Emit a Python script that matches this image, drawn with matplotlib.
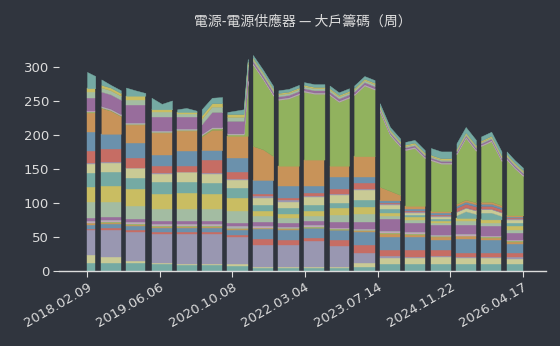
import numpy as np
import matplotlib
matplotlib.use("Agg")
import matplotlib.pyplot as plt
from matplotlib.colors import to_rgb

# ---- data -------------------------------------------------------------
# week index of each sample (3 samples per continuous block of data)
weeks = [0, 4, 8, 14, 23, 33, 38, 47, 57, 63, 73, 83, 88, 97, 107,
         112, 122, 132, 137, 153, 157, 162, 172, 182, 187, 197, 207,
         212, 222, 232, 237, 246, 256, 261, 271, 281, 286, 296, 306,
         311, 320, 330, 336, 346, 356, 361, 370, 380, 385, 395, 405,
         410, 418, 426]

tick_pos = [0, 71, 142, 213, 284, 355, 426]
tick_labels = ["2018.02.09", "2019.06.06", "2020.10.08", "2022.03.04",
               "2023.07.14", "2024.11.22", "2026.04.17"]

# stacked holder groups, bottom to top (values per sample)
g01 = [12,12,12, 12,12,12, 12,12,12, 10,10,10, 9,9,9, 9,9,9, 8,8,8, 4,4,4, 4,4,4, 4,4,4, 4,4,4, 6,6,6, 11,11,11, 11,11,11, 11,11,11, 11,11,11, 11,11,11, 10,10,10]
g02 = [12,12,12, 9,9,9, 3,3,3, 2,2,2, 2,2,2, 2,2,2, 2,2,2, 2,2,2, 2,2,2, 2,2,2, 2,2,2, 6,6,6, 8,8,8, 8,8,8, 10,10,10, 8,8,8, 8,8,8, 8,8,8]
g03 = [36,36,36, 40,40,40, 43,43,43, 43,43,43, 44,44,44, 43,43,43, 40,40,40, 33,33,33, 32,32,32, 38,38,38, 31,31,31, 14,14,14, 3,3,3, 2,2,2, 1,1,1, 1,1,1, 1,1,1, 2,2,2]
g04 = [2,2,2, 2,2,2, 2,2,2, 2,2,2, 2,2,2, 3,3,3, 3,3,3, 8,8,8, 8,8,8, 4,4,4, 9,9,9, 13,13,13, 9,9,9, 10,10,10, 9,9,9, 7,7,7, 7,7,7, 6,6,6]
g05 = [6,6,6, 6,6,6, 6,6,6, 6,6,6, 6,6,6, 6,6,6, 7,7,7, 15,15,15, 15,15,15, 15,15,15, 14,14,14, 19,19,19, 19,19,19, 19,19,19, 14,14,14, 20,20,20, 18,18,18, 14,14,14]
g06 = [2,2,2, 2,2,2, 2,2,2, 2,2,2, 2,2,2, 2,2,2, 2,2,2, 1,1,1, 1,1,1, 1,1,1, 1,1,1, 1,1,1, 4,4,4, 3,3,3, 5,5,5, 4,4,4, 4,4,4, 3,3,3]
g07 = [1,1,1, 1,1,1, 1,1,1, 1,1,1, 1,1,1, 1,1,1, 1,1,1, 1,1,1, 1,1,1, 1,1,1, 1,1,1, 1,1,1, 2,2,2, 2,2,2, 1,1,1, 1,1,1, 1,1,1, 1,1,1]
g08 = [1,1,1, 1,1,1, 1,1,1, 1,1,1, 1,1,1, 1,1,1, 1,1,1, 1,1,1, 1,1,1, 1,1,1, 1,1,1, 1,1,1, 1,1,1, 1,1,1, 1,1,1, 1,1,1, 1,1,1, 1,1,1]
g09 = [2,2,2, 2,2,2, 2,2,2, 2,2,2, 2,2,2, 2,2,2, 2,2,2, 1,1,1, 1,1,1, 1,1,1, 1,1,1, 1,1,1, 2,2,2, 1,1,1, 1,1,1, 1,1,1, 1,1,1, 1,1,1]
g10 = [4,4,4, 4,4,4, 4,4,4, 4,4,4, 4,4,4, 4,4,4, 5,5,5, 6,6,6, 5,5,5, 6,6,6, 8,8,8, 10,10,10, 17,17,17, 14,14,14, 14,14,14, 14,14,14, 14,14,14, 10,10,10]
g11 = [24,24,24, 22,22,22, 20,20,20, 18,18,18, 18,18,18, 18,18,18, 17,17,17, 9,9,9, 8,8,8, 8,8,8, 10,10,10, 12,12,12, 5,5,5, 4,4,4, 3,3,3, 5,5,5, 5,5,5, 5,5,5]
g12 = [22,22,22, 24,24,24, 24,24,24, 23,23,23, 24,24,24, 22,22,22, 20,20,20, 8,8,8, 6,6,6, 8,8,8, 10,10,10, 10,10,10, 4,4,4, 4,4,4, 4,4,4, 5,5,5, 5,5,5, 5,5,5]
g13 = [20,20,20, 20,20,20, 17,17,17, 17,17,17, 16,16,16, 16,16,16, 14,14,14, 8,8,8, 8,8,8, 8,8,8, 8,8,8, 10,10,10, 6,6,6, 3,3,3, 3,3,3, 4,10,6, 10,10,5, 5,5,5]
g14 = [14,14,14, 14,14,14, 14,14,14, 12,12,12, 14,14,14, 14,14,14, 12,12,12, 11,11,11, 10,10,10, 12,12,12, 12,12,12, 15,15,15, 6,6,6, 4,4,4, 3,3,3, 5,5,5, 5,5,5, 4,4,4]
g15 = [1,1,1, 1,1,1, 1,1,1, 1,1,1, 1,1,1, 1,1,1, 1,1,1, 2,2,2, 2,2,2, 2,2,2, 2,2,2, 2,2,2, 1,1,1, 1,1,1, 1,1,1, 1,1,1, 1,1,1, 1,1,1]
g16 = [17,17,17, 20,20,20, 14,14,14, 10,10,10, 8,8,8, 20,20,20, 10,10,10, 4,4,4, 3,3,3, 4,4,4, 6,6,6, 8,8,8, 2,2,2, 2,2,2, 2,2,2, 5,5,5, 4,4,4, 2,2,2]
g17 = [28,28,28, 22,22,22, 22,22,22, 17,17,17, 22,22,22, 14,14,14, 22,22,22, 20,20,20, 18,18,18, 10,10,10, 18,18,18, 10,10,10, 4,4,4, 2,2,2, 2,2,2, 3,3,3, 3,3,3, 2,2,2]
g18 = [29,29,29, 38,34,26, 27,27,27, 32,32,32, 30,30,30, 20,30,30, 32,32,32, 50,45,35, 30,30,30, 39,39,39, 17,17,17, 30,30,30, 20,14,8, 5,5,5, 3,3,3, 3,3,3, 3,3,3, 2,2,2]
g19 = [1,1,1, 1,1,1, 1,1,1, 1,1,1, 1,1,1, 2,2,2, 2,2,79, 120,103,89, 97,99,105, 100,97,97, 104,94,100, 90,104,98, 111,82,71, 82,85,70, 75,70,70, 73,91,76, 82,89,65, 82,69,58]
g20 = [1,1,1, 1,1,1, 1,1,1, 1,1,1, 1,1,1, 1,1,1, 1,1,1, 1,1,1, 1,1,1, 1,1,1, 1,1,1, 1,1,1, 1,1,1, 1,1,1, 1,1,1, 1,1,1, 1,1,1, 1,1,1]
g21 = [1,1,1, 1,1,1, 1,1,1, 1,1,1, 1,1,1, 1,1,1, 1,1,1, 1,1,1, 1,1,1, 1,1,1, 1,1,1, 1,1,1, 1,1,1, 1,1,1, 1,1,1, 1,1,1, 1,1,1, 1,1,1]
g22 = [19,19,19, 21,21,21, 26,26,26, 20,20,20, 17,17,17, 14,22,22, 18,18,18, 3,3,3, 3,3,3, 3,3,3, 3,3,3, 3,3,3, 2,2,2, 2,2,2, 2,2,2, 2,2,2, 2,2,2, 2,2,2]
g23 = [8,8,8, 6,6,6, 8,8,8, 8,8,8, 5,5,5, 8,8,8, 6,6,6, 3,3,3, 3,3,3, 3,3,3, 3,3,3, 3,3,3, 2,2,2, 2,2,2, 2,2,2, 2,2,2, 2,2,2, 2,2,2]
g24 = [6,6,6, 4,4,4, 6,6,6, 4,4,4, 3,3,3, 5,5,5, 4,4,4, 2,2,2, 2,2,2, 2,2,2, 2,2,2, 2,2,2, 2,2,2, 2,2,2, 2,2,2, 2,2,2, 2,2,2, 2,2,2]
g25 = [24,21,18, 8,4,4, 12,8,4, 17,8,13, 4,6,2, 9,8,9, 3,7,4, 4,4,4, 4,4,4, 4,4,4, 4,4,4, 4,4,4, 4,4,4, 4,4,4, 10,10,10, 8,8,8, 6,6,6, 4,4,4]

layers = [g01, g02, g03, g04, g05, g06, g07, g08, g09, g10, g11, g12, g13,
          g14, g15, g16, g17, g18, g19, g20, g21, g22, g23, g24, g25]

# ---- style ------------------------------------------------------------
BG = "#30353e"
FG = "#dcdcdc"
ALPHA = 0.74
set3 = plt.get_cmap("Set3").colors
bg_rgb = np.array(to_rgb(BG))
colors = [tuple(ALPHA * np.array(set3[i % 12]) + (1 - ALPHA) * bg_rgb)
          for i in range(len(layers))]

fig = plt.figure(figsize=(5.6, 3.46), dpi=100, facecolor=BG)
ax = fig.add_axes([59 / 560, 75 / 346, 487 / 560, 231 / 346], facecolor=BG)

x = np.array(weeks, dtype=float)
vals = np.array(layers, dtype=float)
cum = np.vstack([np.zeros(len(x)), np.cumsum(vals, axis=0)])
PER_BLOCK = 3
for k in range(0, len(x), PER_BLOCK):
    sl = slice(k, k + PER_BLOCK)
    for i, c in enumerate(colors):
        ax.fill_between(x[sl], cum[i, sl], cum[i + 1, sl],
                        facecolor=c, edgecolor=c, linewidth=0.3)

ax.set_xlim(-27.4, 448.5)
ax.set_ylim(0, 340)

for s in ("top", "right", "left"):
    ax.spines[s].set_visible(False)
ax.spines["bottom"].set_color(FG)
ax.spines["bottom"].set_linewidth(1.0)

ax.set_yticks([0, 50, 100, 150, 200, 250, 300])
ax.tick_params(axis="y", colors=FG, labelsize=9.5, length=4, width=0.8, pad=3)
ax.set_xticks(tick_pos)
ax.set_xticklabels(tick_labels, rotation=30, ha="right", rotation_mode="anchor")
ax.tick_params(axis="x", colors=FG, labelsize=9.5, length=4, width=0.8, pad=3)

fig.text((59 + 487 / 2) / 560, 1 - 22 / 346,
         "電源-電源供應器 — 大戶籌碼（周）",
         ha="center", va="center", color=FG, fontsize=10,
         family=["Noto Sans CJK TC", "DejaVu Sans"])

fig.savefig("out.png", dpi=100, facecolor=BG)
